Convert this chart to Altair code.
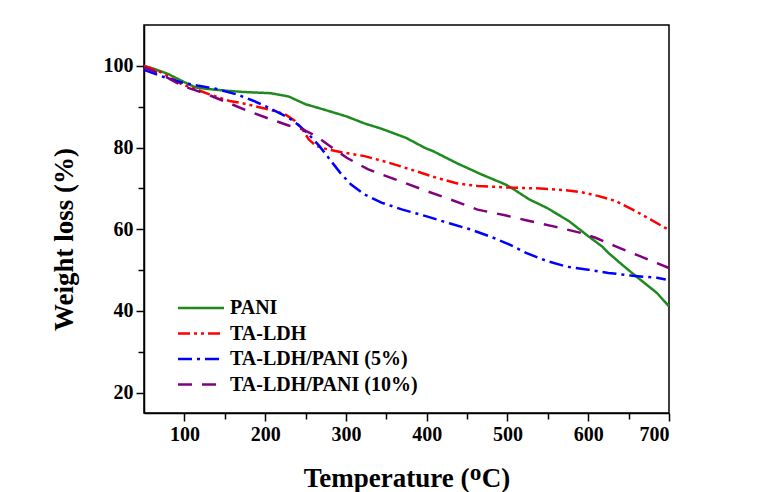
import altair as alt
import pandas as pd

series_names = ["PANI", "TA-LDH", "TA-LDH/PANI (5%)", "TA-LDH/PANI (10%)"]
series_colors = ["#1f8a1f", "#ff0000", "#0000ff", "#800080"]
series_dashes = [[1, 0], [12, 4, 3, 4, 3, 4], [14, 5, 3, 5], [14, 10]]

pani_t = [50, 62, 80, 97, 114, 131, 152, 173, 207, 229, 250, 271, 301, 323, 344, 374, 399, 408,
          438, 468, 497, 506, 527, 549, 576, 600, 617, 625, 642, 659, 685, 700]
pani_w = [100, 99.3, 98, 96.3, 94.7, 94.3, 93.9, 93.6, 93.3, 92.5, 90.6, 89.4, 87.6, 85.9, 84.6,
          82.4, 79.8, 79.1, 76.1, 73.4, 71, 70, 67.3, 65.2, 62, 58.3, 55.8, 54.2, 51.3, 48.5, 44.4, 41.1]

ldh_t = [50, 71, 97, 114, 131, 156, 173, 190, 207, 225, 237, 246, 254, 263, 276, 293, 323, 353,
         387, 412, 438, 463, 502, 536, 570, 591, 613, 634, 655, 677, 700]
ldh_w = [100, 98.4, 95.5, 94.3, 93, 91.4, 90.8, 90, 89.2, 88.1, 86.5, 84.5, 82, 80.4, 79.6, 78.9,
         77.9, 76.3, 74.2, 72.6, 71.2, 70.6, 70.2, 70, 69.6, 69.1, 68.1, 66.9, 64.8, 62.4, 59.8]

p5_t = [50, 71, 97, 118, 139, 165, 186, 207, 229, 242, 254, 267, 280, 293, 306, 323, 344, 370,
        399, 429, 455, 480, 502, 523, 549, 574, 600, 625, 655, 685, 696]
p5_w = [99, 97.5, 95.9, 95.1, 94.4, 93, 91.4, 89.5, 87.3, 85.4, 83.2, 80.4, 77.1, 73.8, 71, 68.5,
        66.5, 64.8, 63.2, 61.4, 59.9, 58.1, 56.3, 54.2, 52.2, 50.8, 50.1, 49.3, 48.6, 48.1, 47.7]

p10_t = [50, 71, 97, 114, 131, 156, 182, 207, 229, 246, 263, 280, 301, 327, 361, 395, 429, 463,
         497, 523, 557, 591, 609, 634, 664, 700]
p10_w = [99.6, 98, 95.1, 94, 92.8, 90.8, 88.7, 86.9, 85.4, 84.5, 82.8, 80.4, 77.5, 74.7, 72.2,
         69.7, 67.3, 64.8, 63.4, 62.2, 60.7, 59.1, 57.9, 55.8, 53.4, 50.5]

x_ticks = [100, 150, 200, 250, 300, 350, 400, 450, 500, 550, 600, 650, 700]
y_ticks = [20, 30, 40, 50, 60, 70, 80, 90, 100]

rows = []
for name, ts, ws in zip(series_names, [pani_t, ldh_t, p5_t, p10_t], [pani_w, ldh_w, p5_w, p10_w]):
    for i, (t, w) in enumerate(zip(ts, ws)):
        rows.append({"series": name, "T": t, "W": w, "order": i})
df = pd.DataFrame(rows)
legend_df = pd.DataFrame({"series": series_names, "idx": list(range(len(series_names)))})

FONT = "Liberation Serif"

color_scale = alt.Scale(domain=series_names, range=series_colors)
dash_scale = alt.Scale(domain=series_names, range=series_dashes)

lines = alt.Chart(df).mark_line(strokeWidth=2.5).encode(
    x=alt.X("T:Q", scale=alt.Scale(domain=[50, 700], nice=False, zero=False),
            axis=alt.Axis(values=x_ticks, title="Temperature (\u1d3cC)",
                          labelExpr="datum.value % 100 === 0 ? datum.label : ''",
                          tickSize={"condition": {"test": "datum.value % 100 === 0", "value": 8}, "value": 6},
                          titlePadding=21)),
    y=alt.Y("W:Q", scale=alt.Scale(domain=[15, 110], nice=False, zero=False),
            axis=alt.Axis(values=y_ticks, title="Weight loss (%)",
                          labelExpr="datum.value % 20 === 0 ? datum.label : ''",
                          tickSize={"condition": {"test": "datum.value % 20 === 0", "value": 8}, "value": 6},
                          titlePadding=25, titleY=214)),
    color=alt.Color("series:N", scale=color_scale, legend=None),
    strokeDash=alt.StrokeDash("series:N", scale=dash_scale, legend=None),
    order="order:Q",
)

leg_base = alt.Chart(legend_df).transform_calculate(
    ly="283 + datum.idx * 25.5", lx1="34", lx2="80", tx="86"
)
leg_lines = leg_base.mark_rule(strokeWidth=2.5).encode(
    x=alt.X("lx1:Q", scale=None), x2="lx2:Q",
    y=alt.Y("ly:Q", scale=None),
    color=alt.Color("series:N", scale=color_scale, legend=None),
    strokeDash=alt.StrokeDash("series:N", scale=dash_scale, legend=None),
)
leg_text = leg_base.mark_text(align="left", baseline="middle", font=FONT, fontWeight="bold",
                              fontSize=20, color="black").encode(
    x=alt.X("tx:Q", scale=None), y=alt.Y("ly:Q", scale=None), text="series:N"
)

chart = alt.layer(lines, leg_lines, leg_text).properties(
    width=525, height=388,
    autosize=alt.AutoSizeParams(type="none"),
    padding={"left": 136, "top": 17, "right": 83, "bottom": 79},
    background="white",
).configure_view(
    stroke="black", strokeWidth=1.5
).configure_axis(
    domainColor="black", domainWidth=1.5, tickColor="black", tickWidth=1.5,
    grid=False, labelFont=FONT, labelFontWeight="bold", labelFontSize=20, labelColor="black",
    titleFont=FONT, titleFontWeight="bold", titleFontSize=27, titleColor="black",
    labelPadding=3,
)

chart.save("out.html", embed_options={"renderer": "svg", "actions": False})
